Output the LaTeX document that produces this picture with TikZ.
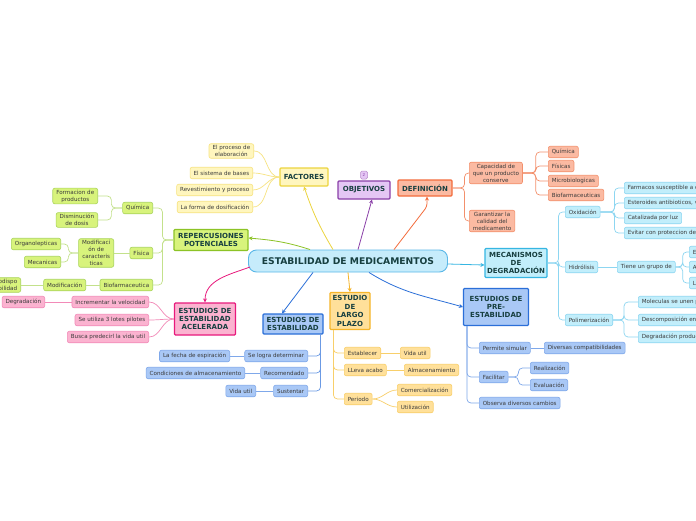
\documentclass[tikz,border=0pt]{standalone}
\usepackage{fontspec}
\setmainfont{DejaVu Sans}
\usetikzlibrary{arrows.meta}

\definecolor{head}{HTML}{173F40}
\definecolor{txt}{HTML}{3A3A3A}
\definecolor{cenF}{HTML}{C6ECFB}
\definecolor{cenD}{HTML}{5BB8E8}
\definecolor{yelF}{HTML}{FFF6BE}
\definecolor{yelD}{HTML}{F7E381}
\definecolor{yelT}{HTML}{ECD43F}
\definecolor{purF}{HTML}{E4C6F4}
\definecolor{purD}{HTML}{8A3FA8}
\definecolor{salF}{HTML}{FBBAA2}
\definecolor{salD}{HTML}{F3906C}
\definecolor{salT}{HTML}{F36C3C}
\definecolor{cyaF}{HTML}{C2EEFB}
\definecolor{cyaD}{HTML}{8DD6F1}
\definecolor{cyaT}{HTML}{36B6E2}
\definecolor{bluF}{HTML}{A9C8F6}
\definecolor{bluD}{HTML}{7FA8EA}
\definecolor{bluT}{HTML}{2B6FD8}
\definecolor{oraF}{HTML}{FFE09A}
\definecolor{oraD}{HTML}{F8CF6A}
\definecolor{oraT}{HTML}{F5B52A}
\definecolor{pnkF}{HTML}{FBB3D0}
\definecolor{pnkD}{HTML}{F28AB8}
\definecolor{pnkT}{HTML}{E8197C}
\definecolor{grnF}{HTML}{D8F37C}
\definecolor{grnD}{HTML}{A9D45A}
\definecolor{grnT}{HTML}{8CC326}

\tikzset{
  box/.style={draw, rounded corners=2pt, line width=0.6pt, inner xsep=3.5pt,
    inner ysep=1.6pt, minimum height=11.5, align=center, text=txt,
    font=\fontsize{5.6}{7}\selectfont},
  topic/.style={draw, line width=1.1pt, rounded corners=1pt, inner sep=2pt,
    align=center, text=head, font=\fontsize{7}{8.4}\selectfont\bfseries},
  yel/.style={box, fill=yelF, draw=yelD},
  sal/.style={box, fill=salF, draw=salD},
  cya/.style={box, fill=cyaF, draw=cyaD},
  blu/.style={box, fill=bluF, draw=bluD},
  ora/.style={box, fill=oraF, draw=oraD},
  pnk/.style={box, fill=pnkF, draw=pnkD},
  grn/.style={box, fill=grnF, draw=grnD},
  link/.style={line width=0.7pt, rounded corners=4pt},
  tip/.style={line width=0.8pt, -{Stealth[length=4pt,width=4pt]}},
}

\begin{document}
\begin{tikzpicture}[x=1pt,y=-1pt]
\useasboundingbox[fill=white] (0,0) rectangle (696,520);

\node[draw=cenD, fill=cenF, line width=0.9pt, rounded corners=8pt, minimum width=199,
  minimum height=22, text=head, font=\fontsize{9.2}{10}\selectfont\bfseries]
  (cen) at (348,261) {ESTABILIDAD DE MEDICAMENTOS};

% main topics
\node[topic, fill=yelF, draw=yelT, minimum width=48, minimum height=18] (fac) at (304,177) {FACTORES};
\node[topic, fill=purF, draw=purD, minimum width=52, minimum height=18] (obj) at (364,190) {OBJETIVOS};
\node[draw=purD!60, fill=purF, rounded corners=1.5pt, line width=0.5pt, minimum width=7,
  minimum height=8, inner sep=0.5pt, text=purD, font=\fontsize{4}{4}\selectfont] (num) at (364,175) {2};
\node[topic, fill=salF, draw=salT, minimum width=54, minimum height=16] (def) at (425,188) {DEFINICIÓN};
\node[topic, fill=cyaF, draw=cyaT, minimum width=62, minimum height=29] (mec) at (516,263) {MECANISMOS\\DE\\DEGRADACIÓN};
\node[topic, fill=bluF, draw=bluT, minimum width=65, minimum height=37] (pre) at (496,307) {ESTUDIOS DE\\PRE-\\ESTABILIDAD};
\node[topic, fill=oraF, draw=oraT, minimum width=40, minimum height=37] (lp) at (350,311) {ESTUDIO\\DE\\LARGO\\PLAZO};
\node[topic, fill=bluF, draw=bluT, minimum width=60, minimum height=20] (est) at (293,324) {ESTUDIOS DE\\ESTABILIDAD};
\node[topic, fill=pnkF, draw=pnkT, minimum width=61, minimum height=32] (ace) at (205,319) {ESTUDIOS DE\\ESTABILIDAD\\ACELERADA};
\node[topic, fill=grnF, draw=grnT, minimum width=74, minimum height=21] (rep) at (211,240) {REPERCUSIONES\\POTENCIALES};

\draw[tip, yelT] ([xshift=-15]cen.north) to[bend left=6] (fac.south);
\draw[tip, purD] ([xshift=10]cen.north) -- ([xshift=8]obj.south);
\draw[tip, salT, rounded corners=3pt] ([xshift=46]cen.north) -- ([xshift=2,yshift=-10]def.south) -- ([xshift=2]def.south);
\draw[tip, cyaT] ([yshift=-3]cen.east) -- ([yshift=-2]mec.west);
\draw[tip, bluT] ([xshift=21]cen.south) to[out=-32,in=164] (pre.west);
\draw[tip, oraT] (cen.south) -- (lp.north);
\draw[tip, bluT] ([xshift=-35]cen.south) -- ([xshift=-11]est.north);
\draw[tip, pnkT] ([xshift=2,yshift=-6]cen.west) to[out=200,in=90] (ace.north);
\draw[tip, grnT] ([xshift=-38]cen.north) to[out=162,in=-5] ([yshift=2]rep.east);

% factores
\node[yel, anchor=east] (fa1) at (254,151) {El proceso de\\elaboración};
\node[yel, anchor=east] (fa2) at (253,173) {El sistema de bases};
\node[yel, anchor=east] (fa3) at (253,190) {Revestimiento y proceso};
\node[yel, anchor=east] (fa4) at (253,207) {La forma de dosificación};
\foreach \c in {fa1,fa2,fa3,fa4}
  \draw[link, yelD] (fac.west) to[out=180,in=0] (\c.east);

% definicion
\node[sal, anchor=west] (cap) at (469,173) {Capacidad de\\que un producto\\conserve};
\node[sal, anchor=west] (gar) at (469,221) {Garantizar la\\calidad del\\medicamento};
\node[sal, anchor=west] (qm) at (548,152) {Química};
\node[sal, anchor=west] (fsc) at (548,166) {Físicas};
\node[sal, anchor=west] (mic) at (548,181) {Microbiologicas};
\node[sal, anchor=west] (bfm) at (548,195) {Biofarmaceuticas};
\coordinate (dj) at ([xshift=12]def.east);
\coordinate (cj) at ([xshift=13]cap.east);
\foreach \c in {cap,gar}
  \draw[link, salD] (def.east) -- (dj) |- (\c.west);
\foreach \c in {qm,fsc,mic,bfm}
  \draw[link, salD] (cap.east) -- (cj) |- (\c.west);

% mecanismos de degradacion
\node[cya, anchor=west] (oxi) at (565,212) {Oxidación};
\node[cya, anchor=west] (hid) at (565,267) {Hidrólisis};
\node[cya, anchor=west] (pol) at (565,320) {Polimerización};
\node[cya, anchor=west] (ox1) at (624,188) {Farmacos susceptible a oxidación};
\node[cya, anchor=west] (ox2) at (624,203) {Esteroides antibioticos, vitaminas};
\node[cya, anchor=west] (ox3) at (624,218) {Catalizada por luz};
\node[cya, anchor=west] (ox4) at (624,233) {Evitar con proteccion de la luz};
\node[cya, anchor=west] (tg) at (617,267) {Tiene un grupo de};
\node[cya, anchor=west] (tg1) at (689,252) {Esteres};
\node[cya, anchor=west] (tg2) at (689,267) {Amidas};
\node[cya, anchor=west] (tg3) at (689,283) {Lactonas};
\node[cya, anchor=west] (po1) at (638,302) {Moleculas se unen para formar};
\node[cya, anchor=west] (po2) at (638,320) {Descomposición en moléculas};
\node[cya, anchor=west] (po3) at (638,337) {Degradación producida};
\coordinate (mj) at ([xshift=11]mec.east);
\coordinate (oj) at ([xshift=14]oxi.east);
\coordinate (tj) at ([xshift=7]tg.east);
\coordinate (pj) at ([xshift=11]pol.east);
\foreach \c in {oxi,hid,pol}
  \draw[link, cyaD] (mec.east) -- (mj) |- (\c.west);
\foreach \c in {ox1,ox2,ox3,ox4}
  \draw[link, cyaD] (oxi.east) -- (oj) |- (\c.west);
\draw[link, cyaD] (hid.east) -- (tg.west);
\foreach \c in {tg1,tg2,tg3}
  \draw[link, cyaD] (tg.east) -- (tj) |- (\c.west);
\foreach \c in {po1,po2,po3}
  \draw[link, cyaD] (pol.east) -- (pj) |- (\c.west);

% pre-estabilidad
\node[blu, anchor=west] (ps) at (479,348) {Permite simular};
\node[blu, anchor=west] (dc) at (544,348) {Diversas compatibilidades};
\node[blu, anchor=west] (fc) at (479,377) {Facilitar};
\node[blu, anchor=west] (rz) at (530,368) {Realización};
\node[blu, anchor=west] (ev) at (530,385) {Evaluación};
\node[blu, anchor=west] (ob) at (479,403) {Observa diversos cambios};
\coordinate (prj) at ([xshift=4]pre.south west);
\coordinate (fj) at ([xshift=10]fc.east);
\foreach \c in {ps,fc,ob}
  \draw[link, bluD] (prj) |- (\c.west);
\draw[link, bluD] (ps.east) -- (dc.west);
\foreach \c in {rz,ev}
  \draw[link, bluD] (fc.east) -- (fj) |- (\c.west);

% largo plazo
\node[ora, anchor=west] (esb) at (344,353) {Establecer};
\node[ora, anchor=west] (vu1) at (400,353) {Vida util};
\node[ora, anchor=west] (lla) at (344,370) {LLeva acabo};
\node[ora, anchor=west] (alm) at (404,370) {Almacenamiento};
\node[ora, anchor=west] (per) at (344,399) {Periodo};
\node[ora, anchor=west] (com) at (397,390) {Comercialización};
\node[ora, anchor=west] (utz) at (397,407) {Utilización};
\coordinate (lj) at ([xshift=4]lp.south west);
\foreach \c in {esb,lla,per}
  \draw[link, oraD] (lj) |- (\c.west);
\draw[link, oraD] (esb.east) -- (vu1.west);
\draw[link, oraD] (lla.east) -- (alm.west);
\foreach \c in {com,utz}
  \draw[link, oraD] (per.east) to[out=0,in=180] (\c.west);

% estudios de estabilidad
\node[blu, anchor=east] (slg) at (308,356) {Se logra determinar};
\node[blu, anchor=east] (fec) at (230,356) {La fecha de espiración};
\node[blu, anchor=east] (rec) at (308,373) {Recomendado};
\node[blu, anchor=east] (cnd) at (245,373) {Condiciones de almacenamiento};
\node[blu, anchor=east] (sus) at (308,391) {Sustentar};
\node[blu, anchor=east] (vu2) at (256,391) {Vida util};
\coordinate (ej) at ([xshift=-3]est.south east);
\foreach \c in {slg,rec,sus}
  \draw[link, bluT!70] (ej) |- (\c.east);
\draw[link, bluD] (slg.west) -- (fec.east);
\draw[link, bluD] (rec.west) -- (cnd.east);
\draw[link, bluD] (sus.west) -- (vu2.east);

% acelerada
\node[pnk, anchor=east] (inc) at (149,302) {Incrementar la velocidad};
\node[pnk, anchor=east] (lot) at (149,320) {Se utiliza 3 lotes pilotes};
\node[pnk, anchor=east] (bus) at (149,337) {Busca predecirl la vida util};
\node[pnk, anchor=east] (deg) at (45,302) {Degradación};
\foreach \c in {inc,lot,bus}
  \draw[link, pnkD] (ace.west) to[out=180,in=0] (\c.east);
\draw[link, pnkD] (inc.west) -- (deg.east);

% repercusiones
\node[grn, anchor=east] (qui) at (153,208) {Química};
\node[grn, anchor=east] (fis) at (153,253) {Física};
\node[grn, anchor=east] (bio) at (153,285) {Biofarmaceutica};
\node[grn, anchor=east] (frm) at (98,196) {Formacion de\\productos};
\node[grn, anchor=east] (dsm) at (98,220) {Disminución\\de dosis};
\node[grn, anchor=east] (mdc) at (114,253) {Modificaci\\ón de\\caracteris\\ticas};
\node[grn, anchor=east] (org) at (61,244) {Organolepticas};
\node[grn, anchor=east] (mcn) at (61,262) {Mecanicas};
\node[grn, anchor=east] (mdf) at (86,285) {Modificación};
\node[grn, anchor=east] (bdp) at (21,285) {Biodispo\\nibilidad};
\coordinate (rj) at ([xshift=-11]rep.west);
\coordinate (qj) at ([xshift=-11]qui.west);
\coordinate (kj) at ([xshift=-10]mdc.west);
\foreach \c in {qui,fis,bio}
  \draw[link, grnD!70] (rep.west) -- (rj) |- (\c.east);
\foreach \c in {frm,dsm}
  \draw[link, grnD!70] (qui.west) -- (qj) |- (\c.east);
\draw[link, grnD!70] (fis.west) -- (mdc.east);
\foreach \c in {org,mcn}
  \draw[link, grnD!70] (mdc.west) -- (kj) |- (\c.east);
\draw[link, grnD!70] (bio.west) -- (mdf.east);
\draw[link, grnD!70] (mdf.west) -- (bdp.east);
\end{tikzpicture}
\end{document}
